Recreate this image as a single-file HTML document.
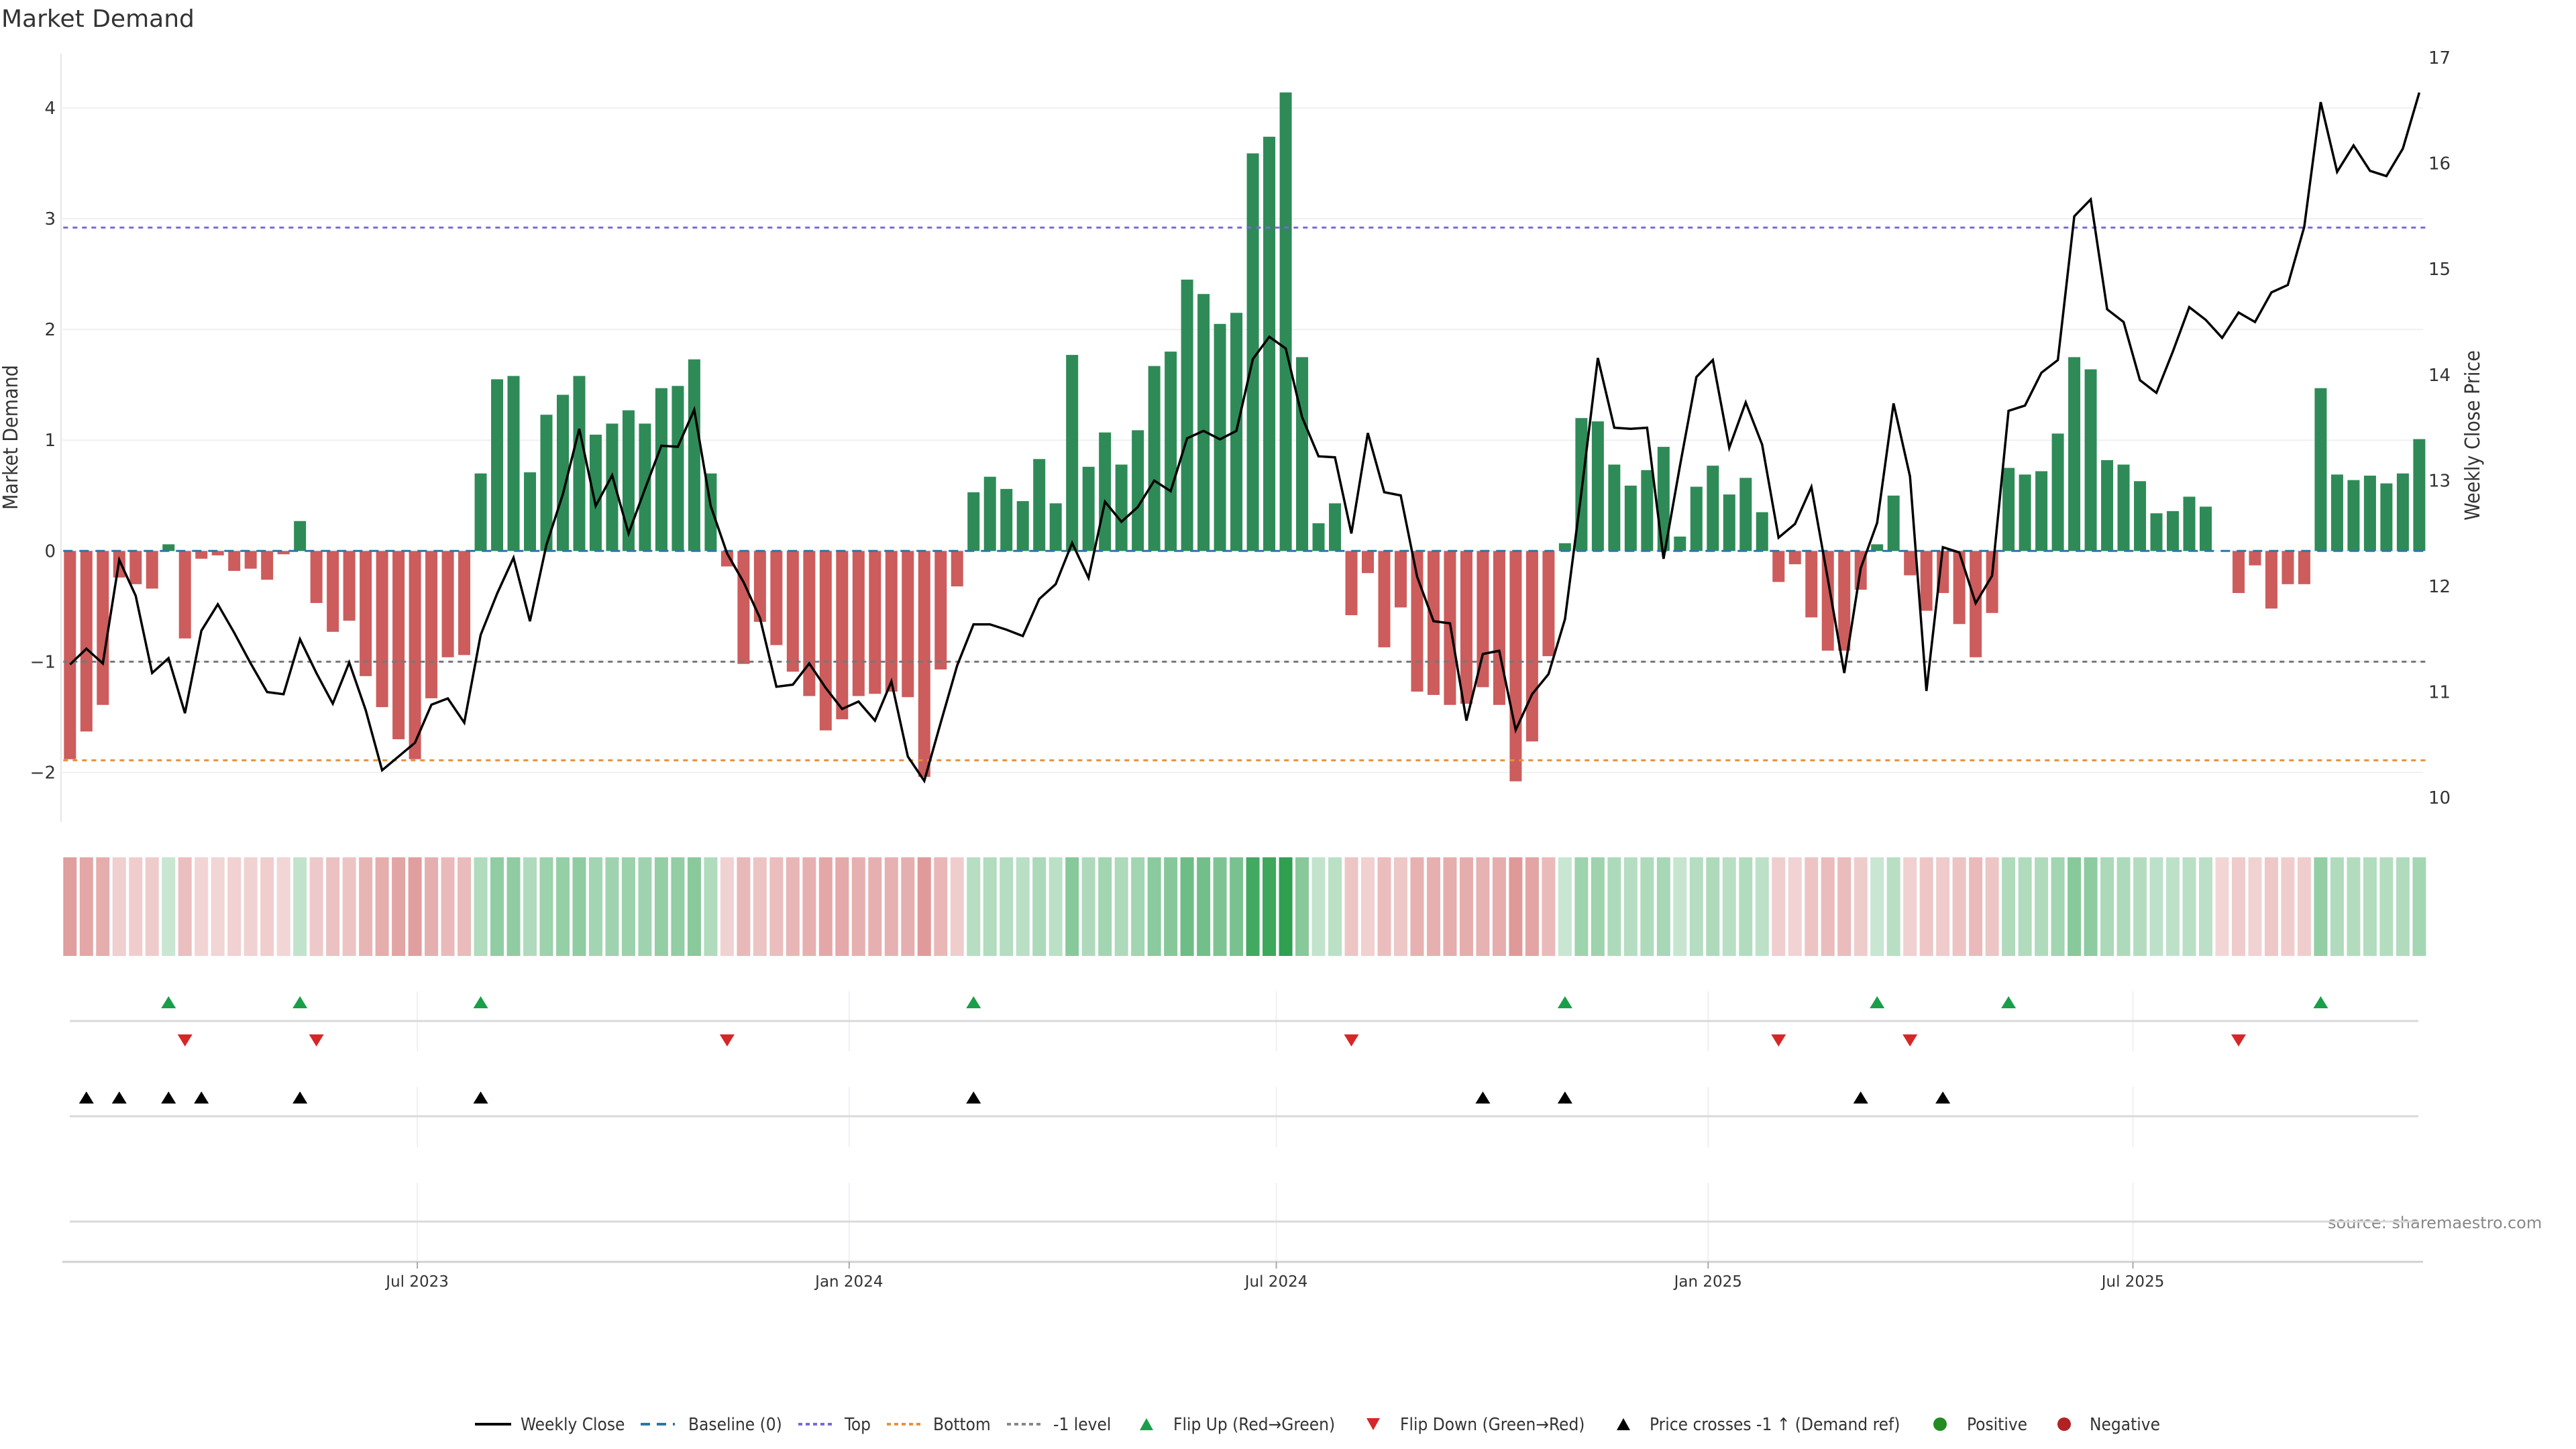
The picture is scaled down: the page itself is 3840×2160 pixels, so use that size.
<!DOCTYPE html>
<html><head><meta charset="utf-8"><title>Market Demand</title>
<style>
html,body{margin:0;padding:0;background:#fff;}
svg{display:block;}
.dj{font-family:"DejaVu Sans","Liberation Sans",sans-serif;}
.cd{font-family:"DejaVu Sans Condensed","Liberation Sans Narrow","DejaVu Sans",sans-serif;font-stretch:condensed;}
</style></head>
<body>
<svg id="chart" width="3840" height="2160" viewBox="0 0 3840 2160" xmlns="http://www.w3.org/2000/svg">
  <text class="dj" x="2" y="40" font-size="36" fill="#333">Market Demand</text>
  <text class="cd" x="0" y="0" font-size="30" fill="#333" text-anchor="middle" transform="translate(26,652) rotate(-90)">Market Demand</text>
  <text class="cd" x="0" y="0" font-size="30" fill="#333" text-anchor="middle" transform="translate(3696,649) rotate(-90)">Weekly Close Price</text>
  <text class="dj" x="3470" y="1831" font-size="24" fill="#888">source: sharemaestro.com</text>
  <g id="grid"></g>
  <g id="strip"></g>
  <g id="bars"></g>
  <g id="levels"></g>
  <g id="line"></g>
  <g id="markers"></g>
  <g id="axes"></g>
  <g id="legend"></g>
</svg>
<script>
const demand = [-1.88,-1.63,-1.39,-0.24,-0.30,-0.34,0.06,-0.79,-0.07,-0.04,-0.18,-0.16,-0.26,-0.03,0.27,-0.47,-0.73,-0.63,-1.13,-1.41,-1.70,-1.88,-1.33,-0.96,-0.94,
0.70,1.55,1.58,0.71,1.23,1.41,1.58,1.05,1.15,1.27,1.15,1.47,1.49,1.73,0.70,
-0.14,-1.02,-0.64,-0.85,-1.09,-1.31,-1.62,-1.52,-1.31,-1.29,-1.27,-1.32,-2.04,-1.07,-0.32,
0.53,0.67,0.56,0.45,0.83,0.43,1.77,0.76,1.07,0.78,1.09,1.67,1.80,2.45,2.32,2.05,2.15,3.59,3.74,4.14,1.75,0.25,0.43,
-0.58,-0.20,-0.87,-0.51,-1.27,-1.30,-1.39,-1.38,-1.23,-1.39,-2.08,-1.72,-0.95,
0.07,1.20,1.17,0.78,0.59,0.73,0.94,0.13,0.58,0.77,0.51,0.66,0.35,
-0.28,-0.12,-0.60,-0.90,-0.90,-0.35,0.06,0.50,-0.22,-0.54,-0.38,-0.66,-0.96,-0.56,
0.75,0.69,0.72,1.06,1.75,1.64,0.82,0.78,0.63,0.34,0.36,0.49,0.40,0.00,
-0.38,-0.13,-0.52,-0.30,-0.30,1.47,0.69,0.64,0.68,0.61,0.70,1.01];
const close = [11.26,11.41,11.27,12.25,11.91,11.18,11.32,10.80,11.58,11.83,11.56,11.27,11.00,10.98,11.50,11.18,10.89,11.28,10.83,10.26,10.39,10.52,10.88,10.94,10.71,
11.54,11.93,12.27,11.67,12.39,12.87,13.49,12.76,13.05,12.50,12.92,13.33,13.32,13.67,12.76,
12.31,12.04,11.70,11.05,11.07,11.27,11.04,10.84,10.91,10.73,11.10,10.39,10.16,10.71,11.25,
11.64,11.64,11.59,11.53,11.88,12.02,12.41,12.08,12.80,12.61,12.75,13.00,12.90,13.40,13.47,13.39,13.47,14.15,14.36,14.25,13.60,13.23,13.22,
12.50,13.45,12.89,12.86,12.09,11.67,11.65,10.73,11.36,11.39,10.64,10.98,11.17,
11.69,12.89,14.16,13.50,13.49,13.50,12.26,13.14,13.98,14.14,13.31,13.74,13.34,
12.46,12.59,12.94,12.07,11.18,12.17,12.60,13.73,13.04,11.01,12.37,12.32,11.84,12.10,
13.66,13.71,14.02,14.14,15.50,15.66,14.62,14.50,13.95,13.83,14.22,14.64,14.52,14.35,
14.59,14.50,14.78,14.85,15.40,16.58,15.92,16.17,15.93,15.88,16.14,16.67];
const leftTicks = [-2,-1,0,1,2,3,4];
const rightTicks = [10,11,12,13,14,15,16,17];
const xTickLabels = ["Jul 2023","Jan 2024","Jul 2024","Jan 2025","Jul 2025"];
const xTickDates = ["2023-07-01","2024-01-01","2024-07-01","2025-01-01","2025-07-01"];
const startDate = "2023-02-03";
const topLevel = 2.92;
const bottomLevel = -1.89;
const negLevel = -1;

const NS = "http://www.w3.org/2000/svg";
function mk(tag, parent, attrs){const e=document.createElementNS(NS,tag);for(const k in attrs)e.setAttribute(k,attrs[k]);parent.appendChild(e);return e;}
const xIdx = i => 104.3 + 24.49*i;
const xDate = d => xIdx((new Date(d+"T00:00:00Z") - new Date(startDate+"T00:00:00Z"))/86400000/7);
const yL = v => 821.3 - v*165.1;
const yR = p => 86 + (17-p)*157.6;
const pFromY = y => 17 - (y-86)/157.6;
const X0 = 93, X1 = 3612;

const grid = document.getElementById('grid');
leftTicks.forEach(v=>{
  const l = mk('line',grid,{x1:X0,x2:X1,y1:yL(v),y2:yL(v),stroke:'#eef0f3','stroke-width':2});
  
  
});
xTickDates.forEach(d=>{
  const x = xDate(d);
  [[1478,1567],[1620,1710],[1763,1881]].forEach(s=>{
    const l = mk('line',grid,{x1:x,x2:x,y1:s[0],y2:s[1],stroke:'#eef0f3','stroke-width':2});
    
    
  });
});
[1522,1664,1821].forEach(y=>{
  const l = mk('line',grid,{x1:104,x2:3605,y1:y,y2:y,stroke:'#d9d9d9','stroke-width':3});
  
  
});

// strip
const strip = document.getElementById('strip');
const maxAbs = Math.max(...demand.map(Math.abs));
demand.forEach((v,i)=>{
  const a = 0.25 + 0.75*Math.abs(v)/maxAbs;
  const c = v>0 ? 'rgb(46,160,80)' : 'rgb(205,92,92)';
  const r = mk('rect',strip,{x:xIdx(i)-10,y:1278,width:20,height:147,fill:c,'fill-opacity':a.toFixed(3)});
  
  
});

// bars
const bars = document.getElementById('bars');
demand.forEach((v,i)=>{
  const y0=yL(0), y1=yL(v);
  const r = mk('rect',bars,{x:xIdx(i)-9,y:Math.min(y0,y1),width:18,height:Math.abs(y1-y0),fill:v>=0?'#2e8b57':'#cd5c5c'});
  
  
});

// levels
const lv = document.getElementById('levels');
const base = mk('line',lv,{x1:xIdx(0)-10,x2:xIdx(demand.length-1)+10,y1:yL(0),y2:yL(0),stroke:'#2a77a8','stroke-width':3,'stroke-dasharray':'14 10'});


[[topLevel,'#7b68d9','top-level'],[bottomLevel,'#e8913a','bottom-level'],[negLevel,'#777','neg1-level']].forEach(o=>{
  const l = mk('line',lv,{x1:xIdx(0)-10,x2:xIdx(demand.length-1)+10,y1:yL(o[0]),y2:yL(o[0]),stroke:o[1],'stroke-width':3,'stroke-dasharray':'7 7'});
  
  
});

// price line
const lineG = document.getElementById('line');
const pl = mk('polyline',lineG,{points:close.map((p,i)=>xIdx(i).toFixed(1)+','+yR(p).toFixed(1)).join(' '),fill:'none',stroke:'#000','stroke-width':3.5,'stroke-linejoin':'miter'});



// markers
const mg = document.getElementById('markers');
function tri(x,y,up,color,name){
  const pts = up ? [[x-11,y+9],[x+11,y+9],[x,y-9]] : [[x-11,y-9],[x+11,y-9],[x,y+9]];
  const t = mk('polygon',mg,{points:pts.map(p=>p.join(',')).join(' '),fill:color});
  
  
}
let lastSign = Math.sign(demand[0]);
demand.forEach((v,i)=>{
  if(i===0) return;
  const s = Math.sign(v);
  if(s!==0 && lastSign!==0 && s!==lastSign){
    if(s>0) tri(xIdx(i),1494,true,'#1a9e4a','flip-up-marker');
    else tri(xIdx(i),1551,false,'#d62728','flip-down-marker');
  }
  if(s!==0) lastSign = s;
});
const thr = pFromY(yL(negLevel));
close.forEach((p,i)=>{
  if(i>0 && close[i-1] < thr && p >= thr) tri(xIdx(i),1636,true,'#000','price-cross-marker');
});

// axes
const ax = document.getElementById('axes');
const la = mk('line',ax,{x1:91,x2:91,y1:80,y2:1225,stroke:'#e6e6e6','stroke-width':2});


leftTicks.forEach(v=>{
  const t = mk('text',ax,{x:83,y:yL(v)+9,'font-size':26,fill:'#333','text-anchor':'end',class:'dj'});
  t.textContent = v<0 ? '\u2212'+Math.abs(v) : String(v);
  
  
});
rightTicks.forEach(p=>{
  const t = mk('text',ax,{x:3620,y:yR(p)+9,'font-size':26,fill:'#333',class:'dj'});
  t.textContent = String(p);
  
  
});
const xa = mk('line',ax,{x1:X0,x2:X1,y1:1881,y2:1881,stroke:'#d0d0d0','stroke-width':3});


xTickDates.forEach((d,i)=>{
  const x = xDate(d);
  const tk = mk('line',ax,{x1:x,x2:x,y1:1881,y2:1891,stroke:'#aaa','stroke-width':2});
  
  
  const t = mk('text',ax,{x:x,y:1918,'font-size':23,fill:'#333','text-anchor':'middle',class:'dj'});
  t.textContent = xTickLabels[i];
  
  
});

// legend
const lg = document.getElementById('legend');
const LY = 2123;
function ltext(x,s){const t=mk('text',lg,{x:x,y:LY+9,'font-size':26,fill:'#333',class:'cd'});t.textContent=s;return t;}
function lline(x1,x2,color,dash,w,name){const l=mk('line',lg,{x1:x1,x2:x2,y1:LY,y2:LY,stroke:color,'stroke-width':w});if(dash)l.setAttribute('stroke-dasharray',dash);}
lline(708,762,'#000',null,4,'legend-weekly-close'); ltext(776,'Weekly Close');
lline(955,1006,'#2a77a8','14 10',4,'legend-baseline'); ltext(1026,'Baseline (0)');
lline(1190,1240,'#7b68d9','6 5',4,'legend-top'); ltext(1259,'Top');
lline(1322,1372,'#e8913a','6 5',4,'legend-bottom'); ltext(1391,'Bottom');
lline(1501,1555,'#888','6 5',4,'legend-neg1'); ltext(1570,'-1 level');
function ltri(x,up,color,name){const pts=up?[[x-10,LY+9],[x+10,LY+9],[x,LY-9]]:[[x-10,LY-9],[x+10,LY-9],[x,LY+9]];const t=mk('polygon',lg,{points:pts.map(p=>p.join(',')).join(' '),fill:color});}
ltri(1709,true,'#1a9e4a','legend-flip-up'); ltext(1749,'Flip Up (Red\u2192Green)');
ltri(2047,false,'#d62728','legend-flip-down'); ltext(2087,'Flip Down (Green\u2192Red)');
ltri(2420,true,'#000','legend-price-cross'); ltext(2459,'Price crosses -1 \u2191 (Demand ref)');
const c1=mk('circle',lg,{cx:2892,cy:LY,r:10,fill:'#228b22'});


ltext(2932,'Positive');
const c2=mk('circle',lg,{cx:3077,cy:LY,r:10,fill:'#b22222'});


ltext(3115,'Negative');
</script>
</body></html>
